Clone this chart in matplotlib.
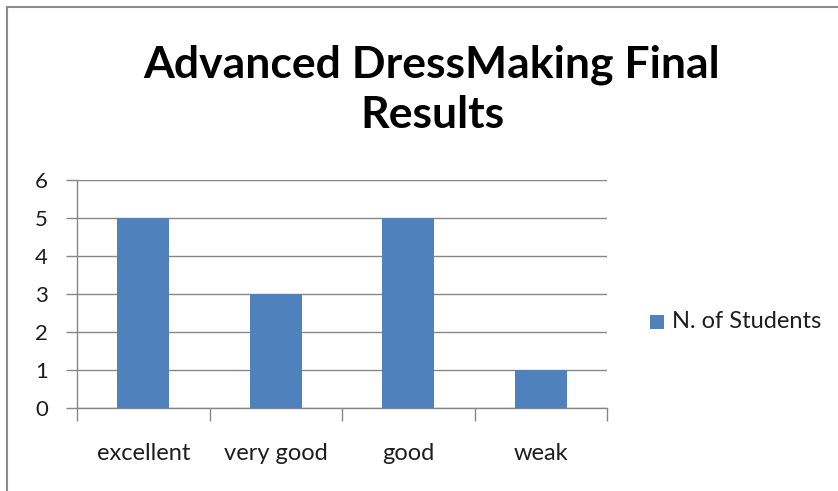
import matplotlib
matplotlib.use('Agg')
import matplotlib.pyplot as plt
from matplotlib.patches import Rectangle

categories = ['excellent', 'very good', 'good', 'weak']
students = [5, 3, 5, 1]
y_ticks = [0, 1, 2, 3, 4, 5, 6]
series_name = 'N. of Students'
title = 'Advanced DressMaking Final\nResults'

BAR = '#4F81BD'
GRID = '#878787'
TXT = '#1e1e1e'
FONT = ['Lato', 'DejaVu Sans']
plt.rcParams['font.family'] = FONT

W, H = 838, 491
fig = plt.figure(figsize=(W / 100, H / 100), dpi=100)
fig.patch.set_facecolor('white')

# outer chart border (only top and left visible in the crop)
fig.add_artist(plt.Line2D([7 / W, 7 / W], [0, 1 - 7 / H], transform=fig.transFigure, color='#8c8c8c', lw=1.5))
fig.add_artist(plt.Line2D([7 / W, 1], [1 - 7 / H, 1 - 7 / H], transform=fig.transFigure, color='#8c8c8c', lw=1.5))

x0, x1, ytop, ybot = 77, 607, 179.5, 408
ax = fig.add_axes([x0 / W, 1 - ybot / H, (x1 - x0) / W, (ybot - ytop) / H])
ax.set_facecolor('white')

xs = [i + 0.5 for i in range(len(categories))]
ax.bar(xs, students, width=0.39, color=BAR, zorder=3)
ax.set_xlim(0, len(categories))
ax.set_ylim(0, 6)
ax.set_yticks(y_ticks)
ax.set_yticklabels([str(v) for v in y_ticks], fontsize=16, color=TXT)
ax.yaxis.grid(True, color=GRID, lw=1.0, zorder=0)

ax.set_xticks(range(len(categories) + 1))
ax.set_xticklabels([])
ax.set_xticks(xs, minor=True)
ax.set_xticklabels(categories, minor=True, fontsize=17, color=TXT)
ax.tick_params(axis='x', which='minor', length=0, pad=25)
ax.tick_params(axis='x', which='major', length=9, color=GRID, width=1.0)
ax.tick_params(axis='y', length=8, color=GRID, width=1.0, pad=13)

for s in ['top', 'right']:
    ax.spines[s].set_visible(False)
for s in ['left', 'bottom']:
    ax.spines[s].set_color(GRID)
    ax.spines[s].set_linewidth(1.0)

fig.text(432 / W, 1 - 90 / H, title, ha='center', va='center', fontsize=32,
         fontweight='bold', color='black', linespacing=1.3)

# legend
fig.add_artist(Rectangle((650 / W, 1 - 329 / H), 14 / W, 14 / H, transform=fig.transFigure,
                         facecolor=BAR, edgecolor='none'))
fig.text(672 / W, 1 - 322 / H, series_name, ha='left', va='center', fontsize=17, color=TXT)

fig.savefig('out.png', dpi=100, facecolor='white')
